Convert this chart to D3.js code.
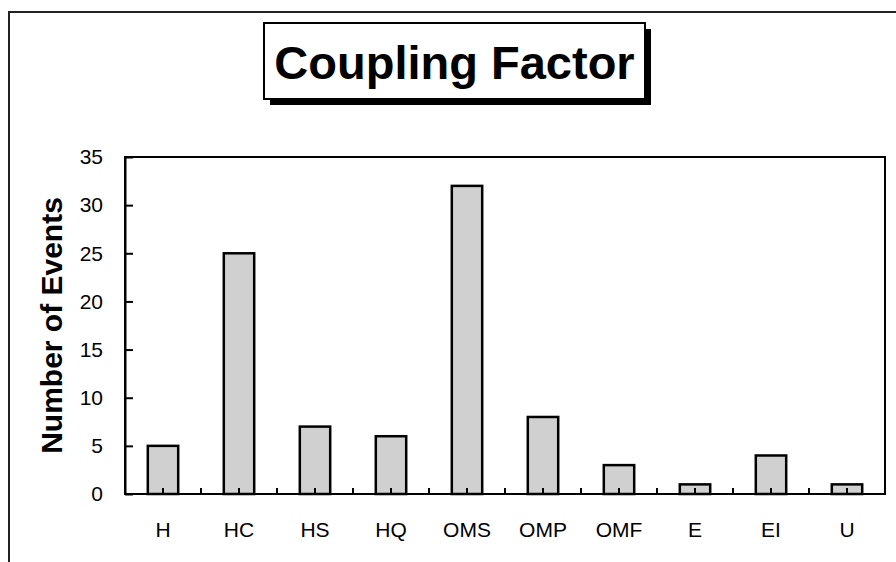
<!DOCTYPE html>
<html>
<head>
<meta charset="utf-8">
<script src="https://cdn.jsdelivr.net/npm/d3@7"></script>
<style>
  html, body { margin: 0; padding: 0; background: #fff; }
  svg { display: block; }
  text { font-family: "Liberation Sans", Arial, sans-serif; }
</style>
</head>
<body>
<svg id="chart" width="896" height="562"></svg>
<script>
const categories = ["H", "HC", "HS", "HQ", "OMS", "OMP", "OMF", "E", "EI", "U"];
const values = [5, 25, 7, 6, 32, 8, 3, 1, 4, 1];
const yTicks = [0, 5, 10, 15, 20, 25, 30, 35];
const titleText = "Coupling Factor";
const yLabel = "Number of Events";

const svg = d3.select("#chart");
const plot = { left: 125, right: 885, top: 157, bottom: 494 };

// outer frame (extends beyond the view at right/bottom)
svg.append("rect")
  .attr("x", 9).attr("y", 12)
  .attr("width", 1000).attr("height", 1000)
  .attr("fill", "#fff").attr("stroke", "#222").attr("stroke-width", 2);

// title box with shadow
const tb = { x: 264, y: 23, w: 381, h: 76, off: 6 };
svg.append("rect")
  .attr("x", tb.x + tb.off).attr("y", tb.y + tb.off)
  .attr("width", tb.w).attr("height", tb.h)
  .attr("fill", "#000");
svg.append("rect")
  .attr("x", tb.x).attr("y", tb.y)
  .attr("width", tb.w).attr("height", tb.h)
  .attr("fill", "#fff").attr("stroke", "#000").attr("stroke-width", 2);
svg.append("text")
  .attr("x", tb.x + tb.w / 2).attr("y", 79)
  .attr("text-anchor", "middle")
  .attr("font-weight", "bold").attr("font-size", 47)
  .attr("fill", "#000")
  .text(titleText);

// scales
const x = d3.scaleBand()
  .domain(categories)
  .range([plot.left, plot.right])
  .paddingInner(0.6)
  .paddingOuter(0.3);
const y = d3.scaleLinear().domain([0, 35]).range([plot.bottom, plot.top]);

// bars
svg.append("g").selectAll("rect")
  .data(categories.map((c, i) => ({ c, v: values[i] })))
  .join("rect")
  .attr("x", d => x(d.c))
  .attr("y", d => y(d.v))
  .attr("width", x.bandwidth())
  .attr("height", d => y(0) - y(d.v))
  .attr("fill", "#d0d0d0")
  .attr("stroke", "#000")
  .attr("stroke-width", 2.5);

// minor x ticks at category centres and boundaries
const step = x.step();
const tickXs = [];
for (let i = 0; i < categories.length; i++) {
  const c = x(categories[i]) + x.bandwidth() / 2;
  tickXs.push(c);
  if (i < categories.length - 1) tickXs.push(c + step / 2);
}
svg.append("g").selectAll("line")
  .data(tickXs)
  .join("line")
  .attr("x1", d => d).attr("x2", d => d)
  .attr("y1", plot.bottom).attr("y2", plot.bottom - 6)
  .attr("stroke", "#000").attr("stroke-width", 2);

// plot frame
svg.append("rect")
  .attr("x", plot.left).attr("y", plot.top)
  .attr("width", plot.right - plot.left).attr("height", plot.bottom - plot.top)
  .attr("fill", "none").attr("stroke", "#000").attr("stroke-width", 2);

// y axis
const yAxis = svg.append("g")
  .attr("transform", `translate(${plot.left},0)`)
  .call(d3.axisLeft(y).tickValues(yTicks).tickSizeInner(-8).tickSizeOuter(0).tickPadding(22));
yAxis.select(".domain").attr("stroke", "#000").attr("stroke-width", 2);
yAxis.selectAll(".tick line").attr("stroke", "#000").attr("stroke-width", 2);
yAxis.selectAll(".tick text")
  .attr("font-size", 21).attr("font-family", "Liberation Sans, Arial, sans-serif").attr("fill", "#000");

// x axis labels
const xAxis = svg.append("g")
  .attr("transform", `translate(0,${plot.bottom})`)
  .call(d3.axisBottom(x).tickSize(0).tickPadding(28));
xAxis.select(".domain").remove();
xAxis.selectAll(".tick text")
  .attr("font-size", 21).attr("font-family", "Liberation Sans, Arial, sans-serif").attr("fill", "#000");

// y axis title
svg.append("text")
  .attr("transform", `translate(62,${(plot.top + plot.bottom) / 2}) rotate(-90)`)
  .attr("text-anchor", "middle")
  .attr("font-weight", "bold").attr("font-size", 30)
  .attr("fill", "#000")
  .text(yLabel);
</script>
</body>
</html>
